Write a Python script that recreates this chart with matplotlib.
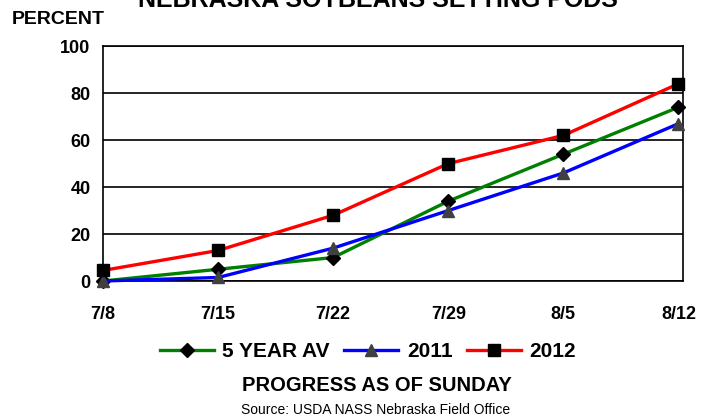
import matplotlib as mpl
mpl.use("Agg")
import matplotlib.pyplot as plt

weeks = ["7/8", "7/15", "7/22", "7/29", "8/5", "8/12"]
avg5 = [0, 5, 10, 34, 54, 74]
y2011 = [0, 1.5, 14, 30, 46, 67]
y2012 = [4.5, 13, 28, 50, 62, 84]

plt.rcParams["font.family"] = ["Liberation Sans", "DejaVu Sans"]

fig = plt.figure(figsize=(7.13, 4.16), dpi=100)
ax = fig.add_axes([0.1445, 0.3245, 0.8135, 0.5645])

x = list(range(len(weeks)))
l1, = ax.plot(x, avg5, color="#008000", lw=2.4, marker="D", ms=7, mfc="black", mec="black", label="5 YEAR AV", zorder=3)
l2, = ax.plot(x, y2011, color="#0000ff", lw=2.4, marker="^", ms=9, mfc="#404040", mec="#404040", label="2011", zorder=3)
l3, = ax.plot(x, y2012, color="#ff0000", lw=2.4, marker="s", ms=8, mfc="black", mec="black", label="2012", zorder=4)

ax.set_xlim(0, 5.04)
ax.set_ylim(0, 100)
ax.set_yticks(range(0, 101, 20))
ax.set_xticks(x)
ax.set_xticklabels(weeks)
ax.yaxis.grid(True, color="black", lw=1.2)
ax.tick_params(axis="both", length=0, labelsize=13)
ax.tick_params(axis="x", pad=18)
ax.tick_params(axis="y", pad=9)
for lab in ax.get_xticklabels() + ax.get_yticklabels():
    lab.set_fontweight("bold")
for sp in ax.spines.values():
    sp.set_linewidth(1.2)
for l in [l1, l2, l3]:
    l.set_clip_on(False)

# title sits partly above the top edge, as in the source image
fig.text(0.53, 1.0, "NEBRASKA SOYBEANS SETTING PODS", ha="center", va="center",
         fontsize=18, fontweight="bold")
fig.text(0.017, 0.952, "PERCENT", ha="left", va="center", fontsize=14, fontweight="bold")

fig.legend(handles=[l1, l2, l3], loc="center", bbox_to_anchor=(0.516, 0.154), ncol=3,
           frameon=False, prop={"weight": "bold", "size": 15}, handlelength=2.6,
           columnspacing=0.7, handletextpad=0.4)

fig.text(0.529, 0.074, "PROGRESS AS OF SUNDAY", ha="center", va="center", fontsize=14.5, fontweight="bold")
fig.text(0.527, 0.015, "Source: USDA NASS Nebraska Field Office", ha="center", va="center", fontsize=10)

fig.savefig("out.png", dpi=100)
